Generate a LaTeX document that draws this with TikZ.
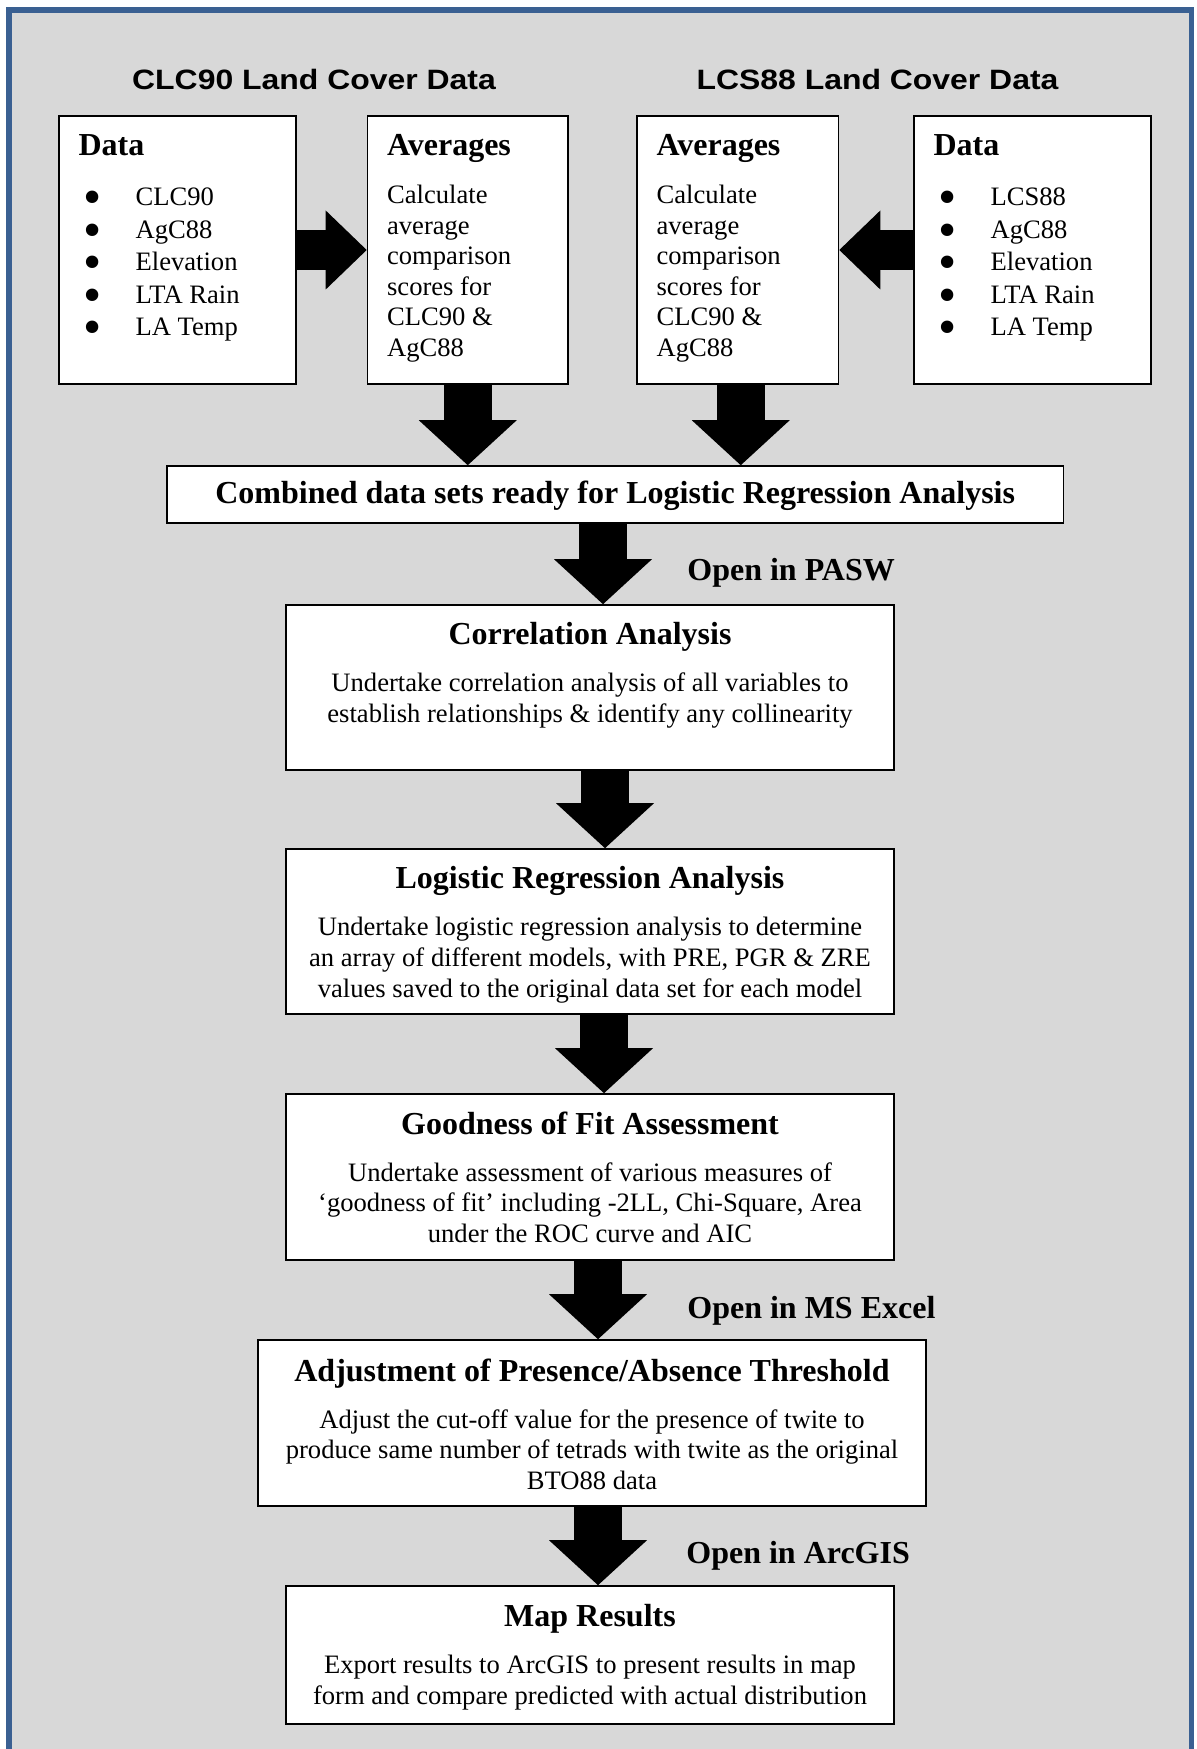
\documentclass[tikz,border=0pt]{standalone}
\usepackage{fontspec}
\setmainfont{Liberation Serif}
\newfontfamily\headfont[FakeStretch=1.14]{Liberation Sans}
\usepackage{tikz}
\usetikzlibrary{arrows.meta,calc}
\usepackage{xcolor}
\definecolor{framebl}{RGB}{58,96,146}
\definecolor{panelgray}{RGB}{216,216,216}
\newcommand{\boxttl}[1]{{\rule{0pt}{11pt}\fontsize{16}{19}\selectfont\bfseries #1}}
\newcommand{\bul}[1]{\makebox[28.5pt][l]{\hspace{2.4pt}\raisebox{-4.6pt}[0pt][0pt]{\fontsize{26}{26}\selectfont\textbullet}}#1}

\begin{document}
\begin{tikzpicture}[
    x=0.5pt, y=-0.5pt,
    box/.style={draw, line width=0.8pt, fill=white, inner sep=0pt},
    boxtext/.style={inner sep=0pt, font=\fontsize{13.3}{15.3}\selectfont},
    head/.style={font=\headfont\bfseries\fontsize{14}{17}\selectfont, anchor=base},
    lbl/.style={font=\fontsize{16}{19}\selectfont\bfseries, anchor=base west, inner sep=0pt},
    blkh/.style={line width=20pt, -{Triangle[length=20.5pt, width=39.5pt, line width=0pt]}},
    blkv/.style={line width=24pt, -{Triangle[length=22.5pt, width=49pt, line width=0pt]}},
  ]

  % Frame
  \useasboundingbox (0,0) rectangle (1196,1749);
  \draw[framebl, line width=2.75pt, fill=panelgray] (9,10) rectangle (1191.5,1775);

  % Headers
  \node[head] (clchead) at (314,90) {CLC90 Land Cover Data};
  \node[head] (lcshead) at (877.5,90) {LCS88 Land Cover Data};

  % Top boxes
  \node[box, minimum width=118.5pt, minimum height=134pt] (data1) at (177.5,250) {};
  \node[box, minimum width=100.25pt, minimum height=134pt] (avg1) at (467.75,250) {};
  \node[box, minimum width=100.75pt, minimum height=134pt] (avg2) at (737.75,250) {};
  \node[box, minimum width=118.5pt, minimum height=134pt] (data2) at (1032.5,250) {};

  \node[boxtext, anchor=north west, align=left, font=\fontsize{13.3}{16.25}\selectfont]
    (data1txt) at ($(data1.north west)+(20,18)$)
    {\boxttl{Data}\\[8.75pt] \bul{CLC90}\\ \bul{AgC88}\\ \bul{Elevation}\\
     \bul{LTA Rain}\\ \bul{LA Temp}};
  \node[boxtext, anchor=north west, align=left]
    (avg1txt) at ($(avg1.north west)+(20,18)$)
    {\boxttl{Averages}\\[8.7pt] Calculate\\ average\\ comparison\\ scores for\\
     CLC90 \&\\ AgC88};
  \node[boxtext, anchor=north west, align=left]
    (avg2txt) at ($(avg2.north west)+(20,18)$)
    {\boxttl{Averages}\\[8.7pt] Calculate\\ average\\ comparison\\ scores for\\
     CLC90 \&\\ AgC88};
  \node[boxtext, anchor=north west, align=left, font=\fontsize{13.3}{16.25}\selectfont]
    (data2txt) at ($(data2.north west)+(20,18)$)
    {\boxttl{Data}\\[8.75pt] \bul{LCS88}\\ \bul{AgC88}\\ \bul{Elevation}\\
     \bul{LTA Rain}\\ \bul{LA Temp}};

  % Combined data
  \node[box, minimum width=448.25pt, minimum height=28.5pt, text depth=1.8pt,
        font=\fontsize{16}{19}\selectfont\bfseries] (comb) at (615.25,494.5)
    {Combined data sets ready for Logistic Regression Analysis};

  % Analysis steps
  \node[box, minimum width=304pt, minimum height=82.5pt] (corr) at (590,687.5) {};
  \node[box, minimum width=304pt, minimum height=82.5pt] (logi) at (590,931.5) {};
  \node[box, minimum width=304pt, minimum height=83pt] (good) at (590,1177) {};
  \node[box, minimum width=334pt, minimum height=83pt] (adj) at (592,1423) {};
  \node[box, minimum width=304pt, minimum height=69pt] (map) at (590,1655) {};

  \node[boxtext, anchor=north, align=center] (corrtxt) at ($(corr.north)+(0,18)$)
    {\boxttl{Correlation Analysis}\\[8.2pt]
     Undertake correlation analysis of all variables to\\
     establish relationships \& identify any collinearity};
  \node[boxtext, anchor=north, align=center] (logitxt) at ($(logi.north)+(0,18)$)
    {\boxttl{Logistic Regression Analysis}\\[8.2pt]
     Undertake logistic regression analysis to determine\\
     an array of different models, with PRE, PGR \& ZRE\\
     values saved to the original data set for each model};
  \node[boxtext, anchor=north, align=center] (goodtxt) at ($(good.north)+(0,18)$)
    {\boxttl{Goodness of Fit Assessment}\\[8.2pt]
     Undertake assessment of various measures of\\
     `goodness of fit' including -2LL, Chi-Square, Area\\
     under the ROC curve and AIC};
  \node[boxtext, anchor=north, align=center] (adjtxt) at ($(adj.north)+(0,19)$)
    {\boxttl{Adjustment of Presence/Absence Threshold}\\[8.2pt]
     Adjust the cut-off value for the presence of twite to\\
     produce same number of tetrads with twite as the original\\
     BTO88 data};
  \node[boxtext, anchor=north, align=center] (maptxt) at ($(map.north)+(0,19)$)
    {\boxttl{Map Results}\\[8.2pt]
     Export results to ArcGIS to present results in map\\
     form and compare predicted with actual distribution};

  % Software labels
  \node[lbl] (pasw) at (687,580) {Open in PASW};
  \node[lbl] (excel) at (687,1318) {Open in MS Excel};
  \node[lbl] (arcgis) at (686,1563) {Open in ArcGIS};

  % Block arrows
  \draw[blkh] (data1.east) -- (avg1.west);
  \draw[blkh] (data2.west) -- (avg2.east);
  \draw[blkv] (avg1.south) -- (avg1.south |- comb.north);
  \draw[blkv] ([xshift=1.5pt]avg2.south) -- ([xshift=1.5pt]avg2.south |- comb.north);
  \draw[blkv] ([xshift=6.5pt]corr.north |- comb.south) -- ([xshift=6.5pt]corr.north);
  \draw[blkv] ([xshift=7.5pt]corr.south) -- ([xshift=7.5pt]logi.north);
  \draw[blkv] ([xshift=7pt]logi.south) -- ([xshift=7pt]good.north);
  \draw[blkv] ([xshift=4pt]good.south) -- ([xshift=4pt]good.south |- adj.north);
  \draw[blkv] ([xshift=3pt]adj.south) -- ([xshift=3pt]adj.south |- map.north);

\end{tikzpicture}
\end{document}
